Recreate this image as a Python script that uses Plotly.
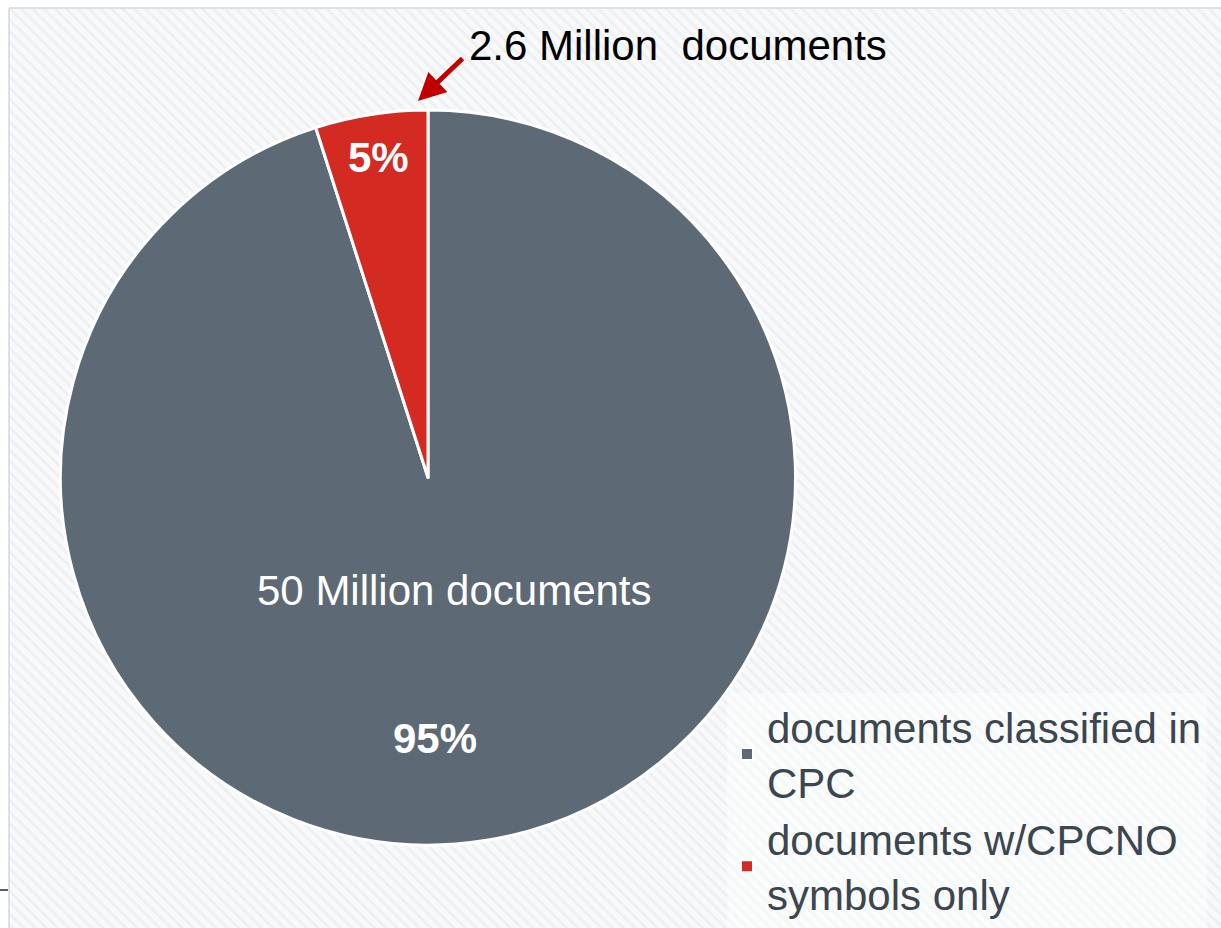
import plotly.graph_objects as go

# ---- data ----
labels = ["documents classified in<br>CPC", "documents w/CPCNO<br>symbols only"]
values = [50.0, 2.6]           # million documents
value_labels = ["50 Million documents", "2.6 Million\u00a0 documents"]
colors = ["#5d6a75", "#d32a22"]

W, H = 1221, 928
FONT = "Liberation Sans, Arial, sans-serif"

total = sum(values)
pcts = [f"{round(v / total * 100)}%" for v in values]

fig = go.Figure()

# hatched background panel (decoration)
fig.add_trace(go.Bar(
    x=[0], y=[1], width=[1],
    marker=dict(color="white",
                line=dict(width=0),
                pattern=dict(shape="\\", fgcolor="#e1e5e9", bgcolor="#f8f9fa",
                             size=8, solidity=0.35)),
    showlegend=False, hoverinfo="skip", xaxis="x", yaxis="y",
))

fig.add_trace(go.Pie(
    labels=labels, values=values, sort=False, direction="clockwise", rotation=0,
    marker=dict(colors=colors, line=dict(color="white", width=3)),
    textinfo="none", hoverinfo="label+percent",
    domain=dict(x=[60 / W, 796 / W], y=[1 - 845 / H, 1 - 110 / H]),
))


def ann(text, px, py, size, color):
    return dict(text=text, xref="paper", yref="paper", x=px / W, y=1 - py / H,
                xanchor="center", yanchor="middle", showarrow=False,
                font=dict(size=size, color=color, family=FONT))


fig.update_layout(
    width=W, height=H,
    margin=dict(l=0, r=0, t=0, b=0, autoexpand=False),
    paper_bgcolor="white", plot_bgcolor="white",
    xaxis=dict(domain=[9 / W, 1], range=[-0.5, 0.5], visible=False, fixedrange=True),
    yaxis=dict(domain=[0, 1 - 8 / H], range=[0, 1], visible=False, fixedrange=True),
    bargap=0,
    font=dict(family=FONT),
    legend=dict(
        x=727 / W, y=0.0, xanchor="left", yanchor="bottom",
        bgcolor="rgba(255,255,255,0.45)",
        font=dict(size=42, color="#3b4650", family=FONT),
        itemsizing="constant", tracegroupgap=0,
    ),
    shapes=[
        dict(type="line", xref="paper", yref="paper",
             x0=9 / W, x1=1, y0=1 - 8 / H, y1=1 - 8 / H,
             line=dict(color="#dde1e6", width=2)),
        dict(type="line", xref="paper", yref="paper",
             x0=9 / W, x1=9 / W, y0=0, y1=1 - 8 / H,
             line=dict(color="#dde1e6", width=2)),
        dict(type="line", xref="paper", yref="paper",
             x0=0, x1=8 / W, y0=1 - 890 / H, y1=1 - 890 / H,
             line=dict(color="#555f68", width=2)),
    ],
    annotations=[
        ann(value_labels[1], 678, 46, 42, "black"),
        dict(text="", xref="paper", yref="paper",
             x=418 / W, y=1 - 101 / H, ax=46, ay=-44,
             showarrow=True, arrowhead=2, arrowsize=1.1, arrowwidth=5,
             arrowcolor="#c00000"),
        ann(value_labels[0], 455, 590, 42, "white"),
        ann(f"<b>{pcts[0]}</b>", 435, 738, 42, "white"),
        ann(f"<b>{pcts[1]}</b>", 378, 157, 42, "white"),
    ],
)

fig.write_html("out.html")
